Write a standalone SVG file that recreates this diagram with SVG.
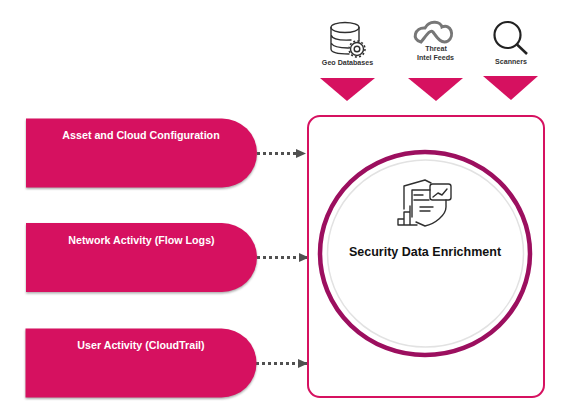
<svg xmlns="http://www.w3.org/2000/svg" width="567" height="420" viewBox="0 0 567 420">
<defs>
<filter id="sh" x="-5%" y="-5%" width="110%" height="115%"><feGaussianBlur stdDeviation="1"/></filter>
<marker id="arr" markerUnits="userSpaceOnUse" markerWidth="10" markerHeight="10" refX="9" refY="5" orient="auto"><path d="M0 0.5L10 5L0 9.500Z" fill="#505050"/></marker>
<path id="src" d="M0 0H196A35 34.500 0 0 1 196 69H0Z"/>
</defs>
<style>
text{font-family:"Liberation Sans",Arial,sans-serif;font-weight:bold}
.lbl{font-size:10.700px;fill:#fff;text-anchor:middle}
.cap{font-size:7.100px;fill:#333;text-anchor:middle}
.tri{fill:#d61160}
.src{fill:#d61160}
.shadow{fill:#666;opacity:.55;filter:url(#sh)}
.conn{stroke:#505050;stroke-width:3;stroke-dasharray:3 3;fill:none;marker-end:url(#arr)}
.ic{fill:none;stroke:#2f2f2f;stroke-width:1.400;stroke-linejoin:round;stroke-linecap:round}
</style>
<rect width="567" height="420" fill="#fff"/>
<g id="connectors">
<path class="conn" d="M257 153.500H305"/>
<path class="conn" d="M257 257.500H308"/>
<path class="conn" d="M256 363.500H307"/>
</g>
<g id="node-asset"><use href="#src" x="26" y="120" class="shadow"/><use href="#src" x="26" y="118.500" class="src"/><text class="lbl" x="141" y="139">Asset and Cloud Configuration</text></g>
<g id="node-network"><use href="#src" x="26" y="224.500" class="shadow"/><use href="#src" x="26" y="223" class="src"/><text class="lbl" x="141.500" y="244">Network Activity (Flow Logs)</text></g>
<g id="node-user"><use href="#src" x="25.500" y="330" class="shadow"/><use href="#src" x="25.500" y="328.500" class="src"/><text class="lbl" x="141" y="349">User Activity (CloudTrail)</text></g>
<g id="node-enrichment">
<rect x="308" y="116" width="236" height="281" rx="12" fill="#fff" stroke="#d61160" stroke-width="2"/>
<ellipse cx="425" cy="253.500" rx="105" ry="101.500" fill="#fff" stroke="#9c0f5f" stroke-width="4.500"/>
<ellipse cx="425.500" cy="253.500" rx="98" ry="93.500" fill="none" stroke="#e2e2e2" stroke-width="1.500"/>
<path class="ic" d="M404 209V186L425 180L431 183M446 200V207C446 215 435 224 425 226L416 222"/>
<path class="ic" d="M412 217V190H430"/>
<rect class="ic" x="430" y="184" width="21" height="16" rx="2.500"/>
<path class="ic" d="M398 225V219H404V225M404 225V212H410V225M410 225V206M398 225H417"/>
<path class="ic" d="M414 195H423M414 200H429M420 207H433M420 211H430M433 197L438 193L442 195L447 189"/>
<text x="425" y="256" font-size="12.500" fill="#111" text-anchor="middle">Security Data Enrichment</text>
</g>
<g id="node-geo">
<ellipse cx="345" cy="27.500" rx="14" ry="5" class="ic"/>
<path class="ic" d="M331 27.500V49Q331 54 349 54M359 27.500V41M331 35Q333 41 351 40M331 43Q334 48 348 48"/>
<circle cx="357" cy="49" r="6.500" class="ic" stroke-dasharray="none"/><circle cx="357" cy="49" r="8" fill="none" stroke="#2f2f2f" stroke-width="1.500" stroke-dasharray="2 2.200"/><circle cx="357" cy="49" r="2.800" class="ic"/>
<text class="cap" x="347.500" y="65">Geo Databases</text>
<polygon class="tri" points="320,78 375,78 347,101"/>
</g>
<g id="node-threat">
<path d="M421 42C411 40 415 27 425 28C430 19 441 22 442 27C451 23 455 36 448 41C441 45 436 36 433 32C430 29 426 36 421 42Z" fill="none" stroke="#777" stroke-width="3"/>
<text class="cap" x="436" y="51">Threat</text>
<text class="cap" x="435.500" y="60">Intel Feeds</text>
<polygon class="tri" points="408,78 463,78 436,101"/>
</g>
<g id="node-scanners">
<circle cx="507.500" cy="35" r="13" fill="none" stroke="#222" stroke-width="2.200"/>
<path d="M517 44.500L527 54" stroke="#222" stroke-width="2.500" fill="none"/>
<text class="cap" x="511" y="63.500">Scanners</text>
<polygon class="tri" points="483,76 538,76 511,100"/>
</g>
</svg>
